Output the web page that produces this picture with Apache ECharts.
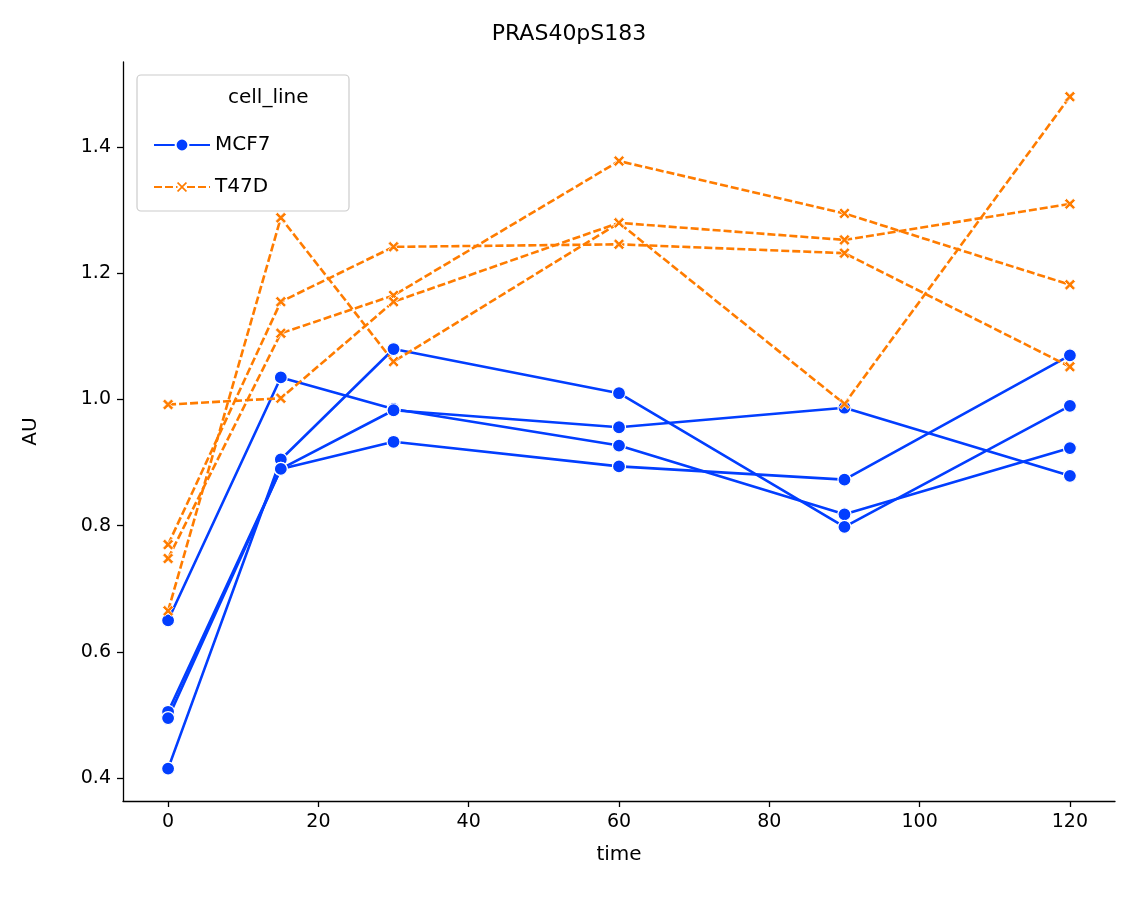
<!DOCTYPE html>
<html><head><meta charset="utf-8">
<script src="https://cdn.jsdelivr.net/npm/echarts@6/dist/echarts.min.js"></script>
<style>html,body{margin:0;background:#fff}#c{width:1138px;height:908px}</style>
</head><body><div id="c"></div>
<script>
const times = [0, 15, 30, 60, 90, 120];
const xTicks = [0, 20, 40, 60, 80, 100, 120];
const yTicks = [0.4, 0.6, 0.8, 1.0, 1.2, 1.4];
const mcf7Runs = [
  [0.65, 1.035, 0.985, 0.927, 0.818, 0.923],
  [0.415, 0.905, 1.08, 1.01, 0.798, 0.99],
  [0.505, 0.89, 0.933, 0.894, 0.873, 1.07],
  [0.495, 0.89, 0.983, 0.956, 0.987, 0.879]
];
const t47dRuns = [
  [0.665, 1.288, 1.06, 1.28, 0.993, 1.48],
  [0.77, 1.155, 1.242, 1.246, 1.232, 1.052],
  [0.748, 1.105, 1.165, 1.378, 1.295, 1.182],
  [0.992, 1.002, 1.155, 1.28, 1.253, 1.31]
];
const BLUE = '#023eff', ORANGE = '#ff7c00';
const xMark = 'path://M2,0 L5,3 L8,0 L10,2 L7,5 L10,8 L8,10 L5,7 L2,10 L0,8 L3,5 L0,2 Z';
const font = 'DejaVu Sans';

const series = [];
mcf7Runs.forEach(r => series.push({
  name: 'MCF7', type: 'line', data: r.map((v, i) => [times[i], v]),
  symbol: 'circle', symbolSize: 13, color: BLUE,
  lineStyle: {width: 2.6, color: BLUE},
  itemStyle: {color: BLUE, borderColor: '#fff', borderWidth: 1.2}
}));
t47dRuns.forEach(r => series.push({
  name: 'T47D', type: 'line', data: r.map((v, i) => [times[i], v]),
  symbol: xMark, symbolSize: 11, color: ORANGE,
  lineStyle: {width: 2.6, color: ORANGE, type: [8, 3]},
  itemStyle: {color: ORANGE, borderColor: '#fff', borderWidth: 0.8}
}));

const chart = echarts.init(document.getElementById('c'));
chart.setOption({
  animation: false,
  title: {text: 'PRAS40pS183', left: 'center', top: 18,
    textStyle: {fontFamily: font, fontSize: 22, fontWeight: 'normal', color: '#000'}},
  grid: {left: 123, right: 23, top: 62, bottom: 107},
  xAxis: {type: 'value', min: -6, max: 126, name: 'time', nameLocation: 'middle', nameGap: 44,
    nameTextStyle: {fontFamily: font, fontSize: 20, color: '#000'},
    axisLine: {onZero: false, lineStyle: {color: '#000', width: 1.3}},
    axisTick: {show: true, length: 6, customValues: xTicks, lineStyle: {color: '#000', width: 1.3}},
    axisLabel: {customValues: xTicks, fontFamily: font, fontSize: 19, color: '#000', margin: 12},
    splitLine: {show: false}},
  yAxis: {type: 'value', min: 0.3636, max: 1.535, name: 'AU', nameLocation: 'middle', nameGap: 82,
    nameTextStyle: {fontFamily: font, fontSize: 20, color: '#000'},
    axisLine: {show: true, onZero: false, lineStyle: {color: '#000', width: 1.3}},
    axisTick: {show: true, length: 6, customValues: yTicks, lineStyle: {color: '#000', width: 1.3}},
    axisLabel: {customValues: yTicks, fontFamily: font, fontSize: 19, color: '#000', margin: 12,
      formatter: v => v.toFixed(1)},
    splitLine: {show: false}},
  legend: {data: ['MCF7', 'T47D'], orient: 'vertical', left: 148, top: 130, itemGap: 22,
    itemWidth: 56, itemHeight: 16,
    textStyle: {fontFamily: font, fontSize: 20, color: '#000'}},
  graphic: [
    {type: 'rect', shape: {x: 137, y: 75, width: 212, height: 136, r: 4},
      style: {fill: 'rgba(255,255,255,0.8)', stroke: '#ccc', lineWidth: 1.2}, z: -1},
    {type: 'text', left: 228, top: 88, style: {text: 'cell_line', font: '20px "DejaVu Sans"', fill: '#000'}}
  ],
  series: series
});
</script></body></html>
